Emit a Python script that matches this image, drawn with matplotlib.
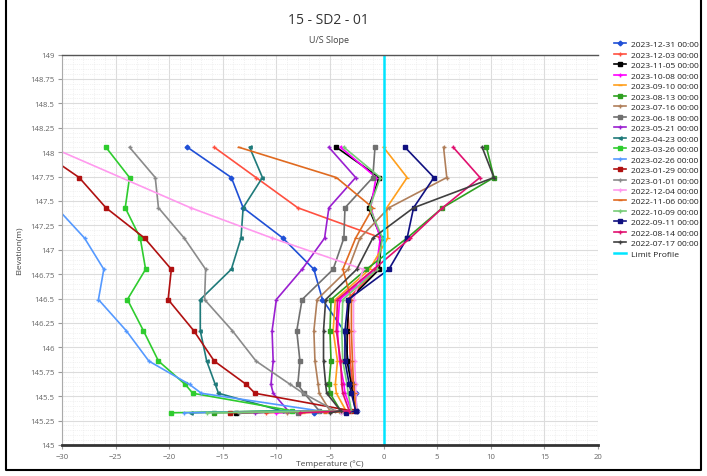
import numpy as np
import matplotlib

matplotlib.use("Agg")
import matplotlib.pyplot as plt
from matplotlib.lines import Line2D
from matplotlib.ticker import MultipleLocator, FuncFormatter

plt.rcParams["font.family"] = ["Open Sans", "DejaVu Sans"]

# elevations (m) of the sensor readings, top to bottom;
# the last two rows are the bottom sensor pair
elev = [148.05, 147.74, 147.43, 147.12, 146.80, 146.49, 146.17,
        145.86, 145.62, 145.53, 145.35, 145.33]

dates = ["2023-12-31 00:00", "2023-12-03 00:00", "2023-11-05 00:00",
         "2023-10-08 00:00", "2023-09-10 00:00", "2023-08-13 00:00",
         "2023-07-16 00:00", "2023-06-18 00:00", "2023-05-21 00:00",
         "2023-04-23 00:00", "2023-03-26 00:00", "2023-02-26 00:00",
         "2023-01-29 00:00", "2023-01-01 00:00", "2022-12-04 00:00",
         "2022-11-06 00:00", "2022-10-09 00:00", "2022-09-11 00:00",
         "2022-08-14 00:00", "2022-07-17 00:00"]

# temperature (deg C) per date, same order as elev
t_20231231 = [-18.3, -14.2, -13.1, -9.4, -6.5, -5.7, -3.7, -3.3, -2.8, -2.6, -2.5, -6.5]
t_20231203 = [-15.8, -11.9, -8.0, -0.2, -0.6, -3.4, -3.2, -3.1, -2.9, -2.8, -2.6, -11.0]
t_20231105 = [-4.4, -0.4, -1.4, -0.2, -0.4, -3.2, -3.4, -3.4, -3.0, -2.9, -2.6, -13.8]
t_20231008 = [-4.0, -0.7, -1.2, -0.3, -0.7, -4.1, -4.3, -4.1, -3.7, -3.6, -3.0, -10.0]
t_20230910 = [0.0, 2.2, 0.3, 0.4, -1.3, -4.5, -4.7, -4.3, -4.5, -4.4, -3.5, -7.5]
t_20230813 = [9.6, 10.3, 5.5, 2.2, -1.6, -4.9, -5.0, -4.9, -5.1, -5.0, -4.0, -15.8]
t_20230716 = [5.6, 5.9, 0.5, -2.2, -3.3, -6.2, -6.5, -6.4, -6.1, -6.0, -5.0, -9.0]
t_20230618 = [-0.8, -1.0, -3.6, -3.7, -4.7, -7.6, -8.1, -7.8, -8.0, -7.4, -6.0, -8.0]
t_20230521 = [-5.1, -2.6, -5.1, -5.5, -7.6, -10.0, -10.4, -10.3, -10.5, -10.3, -8.9, -12.0]
t_20230423 = [-12.5, -11.3, -13.1, -13.3, -14.2, -17.1, -17.1, -16.5, -15.7, -15.4, -9.5, -18.0]
t_20230326 = [-25.9, -23.7, -24.1, -22.7, -22.2, -23.9, -22.4, -21.0, -18.5, -17.8, -8.5, -19.8]
t_20230226 = [-35.5, -33.0, -30.5, -27.9, -26.1, -26.6, -24.0, -21.9, -18.1, -17.0, -6.0, -18.6]
t_20230129 = [-32.5, -28.4, -25.9, -22.3, -19.8, -20.1, -17.7, -15.8, -12.8, -12.0, -3.0, -14.3]
t_20230101 = [-23.7, -21.3, -21.0, -18.6, -16.6, -16.7, -14.1, -11.9, -8.7, -7.5, -4.5, -13.5]
t_20221204 = [-31.0, np.nan, -18.0, -10.4, -1.9, -2.8, -2.8, -2.7, -2.6, -2.6, -2.5, -4.0]
t_20221106 = [-13.5, -4.4, -1.0, -2.6, -3.8, -3.0, -3.0, -2.9, -2.8, -2.7, -2.6, -5.5]
t_20221009 = [-3.7, -0.3, -1.3, -0.1, -0.6, -3.8, -3.9, -3.8, -3.4, -3.3, -3.0, -16.5]
t_20220911 = [2.0, 4.7, 2.8, 2.2, 0.5, -3.3, -3.6, -3.6, -3.2, -3.0, -2.6, -3.5]
t_20220814 = [6.5, 9.0, 5.5, 2.5, -0.9, -4.3, -4.4, -4.0, -3.9, -3.8, -3.2, -7.8]
t_20220717 = [9.2, 10.3, 2.8, -1.0, -2.5, -5.4, -5.6, -5.6, -5.4, -5.3, -4.0, -5.0]

temps = [t_20231231, t_20231203, t_20231105, t_20231008, t_20230910,
         t_20230813, t_20230716, t_20230618, t_20230521, t_20230423,
         t_20230326, t_20230226, t_20230129, t_20230101, t_20221204,
         t_20221106, t_20221009, t_20220911, t_20220814, t_20220717]

limit_t = [0.0, 0.0]
limit_e = [145.0, 149.0]

colors = ["#1f4fd6", "#ff5040", "#000000", "#ff00ff", "#ff9f1c",
          "#2ea020", "#b07f5a", "#707070", "#9a1fd0", "#1f7a7a",
          "#2ecc2e", "#5599ff", "#b01010", "#8a8a8a", "#ff99ee",
          "#e06a20", "#77cc77", "#101080", "#e0106f", "#404040"]
markers = ["D", "+", "s", "+", "_", "s", "+", "s", "+", "<",
           "s", "+", "s", "+", "+", "_", "+", "s", "+", "+"]

fig = plt.figure(figsize=(7.07, 4.77), dpi=100)
ax = fig.add_axes([0.0877, 0.065, 0.758, 0.8186])

for lab, t, c, m in zip(dates, temps, colors, markers):
    t = np.asarray(t, dtype=float)
    e = np.asarray(elev)
    ok = ~np.isnan(t)
    ax.plot(t[ok], e[ok], color=c, lw=1.2, marker=m, ms=2.4,
            mew=1.0, label=lab)

ax.plot(limit_t, limit_e, color="#00e5ff", lw=1.8, label="Limit Profile")

ax.set_xlim(-30, 20)
ax.set_ylim(145, 149)
ax.xaxis.set_major_locator(MultipleLocator(5))
ax.xaxis.set_minor_locator(MultipleLocator(1))
ax.yaxis.set_major_locator(MultipleLocator(0.25))
ax.yaxis.set_minor_locator(MultipleLocator(0.05))
ax.yaxis.set_major_formatter(FuncFormatter(lambda v, p: f"{v:g}"))
ax.grid(which="major", color="#dcdcdc", lw=0.8)
ax.grid(which="minor", color="#e6e6e6", lw=0.5, ls=":")
ax.set_axisbelow(True)
ax.tick_params(which="both", labelsize=5.6, colors="#9a9a9a", length=3, pad=2.5)
ax.tick_params(which="minor", length=0)
for lbl in ax.get_xticklabels() + ax.get_yticklabels():
    lbl.set_color("#666666")

ax.spines["right"].set_visible(False)
ax.spines["top"].set_color("#555555")
ax.spines["top"].set_linewidth(1.0)
ax.spines["left"].set_color("#aaaaaa")
ax.spines["bottom"].set_color("#333333")
ax.spines["bottom"].set_linewidth(2.0)

ax.set_xlabel("Temperature (°C)", fontsize=6.0, color="#444444")
ax.set_ylabel("Elevation(m)", fontsize=6.0, color="#444444")
ax.xaxis.set_label_coords(0.5, -0.037)
ax.yaxis.set_label_coords(-0.074, 0.5)

fig.text(0.465, 0.957, "15 - SD2 - 01", ha="center", va="center",
         fontsize=10, color="#333333")
fig.text(0.465, 0.916, "U/S Slope", ha="center", va="center",
         fontsize=6.5, color="#444444")

leg = fig.legend(loc="upper left", bbox_to_anchor=(0.862, 0.922),
                 frameon=False, fontsize=6.1, handlelength=1.5,
                 handletextpad=0.5, labelspacing=0.3, borderpad=0)
for txt in leg.get_texts():
    txt.set_color("#222222")

# outer frame (left, bottom, right)
frame_x = [0.008, 0.008, 0.991, 0.991]
frame_y = [1.0, 0.012, 0.012, 1.0]
fig.add_artist(Line2D(frame_x, frame_y, transform=fig.transFigure,
                      color="black", lw=1.5))

fig.savefig("out.png", dpi=100, facecolor="white")
